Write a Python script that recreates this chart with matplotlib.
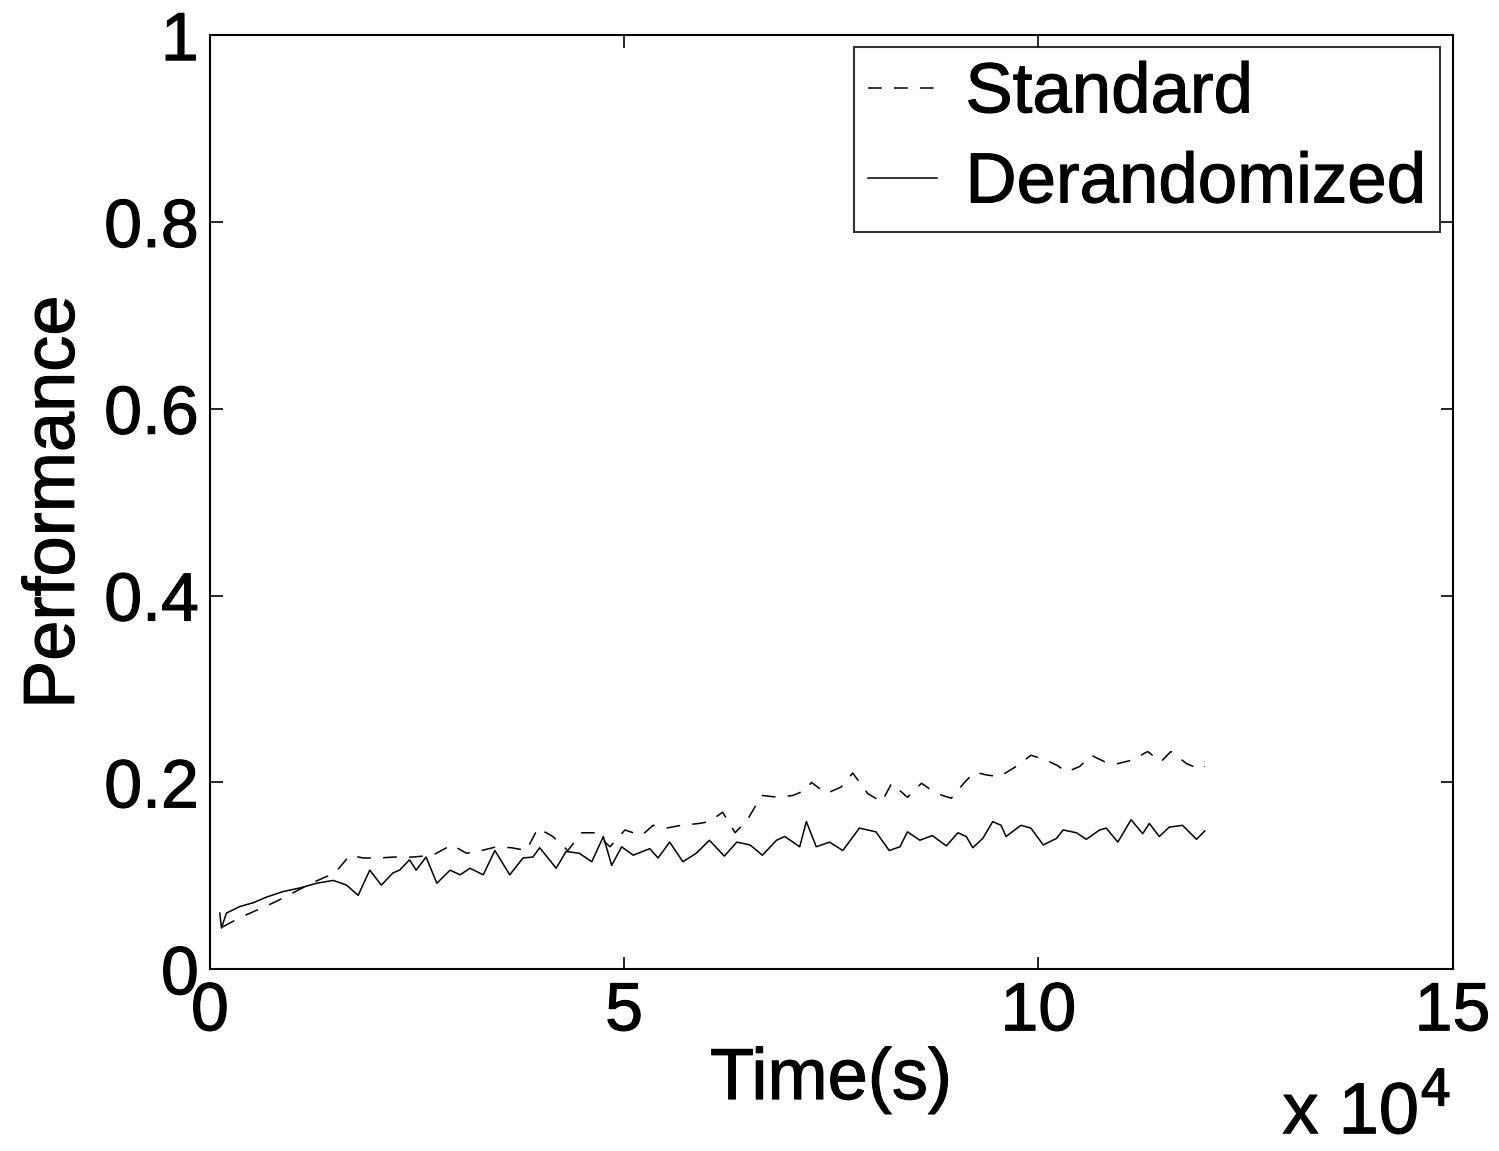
import matplotlib

matplotlib.use("Agg")
import matplotlib.pyplot as plt
import matplotlib.patheffects as pe

plt.rcParams["font.family"] = ["Liberation Sans", "DejaVu Sans"]

# time in units of 1e4 s
std_x = [0.15, 0.36, 0.79, 1.25, 1.51, 1.69, 1.85, 2.05, 2.21, 2.45, 2.69, 2.92,
         3.10, 3.28, 3.46, 3.64, 3.82, 3.96, 4.14, 4.32, 4.49, 4.65, 4.83, 5.01,
         5.21, 5.35, 5.51, 5.69, 5.91, 6.03, 6.19, 6.34, 6.49, 6.66, 6.86, 7.04,
         7.20, 7.26, 7.44, 7.62, 7.76, 7.94, 8.11, 8.23, 8.42, 8.59, 8.77, 8.95,
         9.11, 9.23, 9.37, 9.53, 9.75, 9.91, 10.09, 10.23, 10.34, 10.50, 10.64,
         10.80, 10.96, 11.14, 11.32, 11.48, 11.60, 11.79, 11.95, 12.01]
std_y = [0.045, 0.055, 0.072, 0.093, 0.103, 0.122, 0.119, 0.119, 0.120, 0.120,
         0.122, 0.133, 0.124, 0.127, 0.131, 0.130, 0.127, 0.151, 0.142, 0.127,
         0.146, 0.146, 0.131, 0.149, 0.143, 0.154, 0.151, 0.154, 0.156, 0.158,
         0.168, 0.146, 0.160, 0.186, 0.184, 0.186, 0.192, 0.200, 0.188, 0.195,
         0.210, 0.188, 0.179, 0.199, 0.184, 0.199, 0.188, 0.183, 0.200, 0.211,
         0.208, 0.206, 0.218, 0.229, 0.224, 0.218, 0.211, 0.217, 0.229, 0.222,
         0.220, 0.224, 0.233, 0.222, 0.233, 0.220, 0.214, 0.217]

der_x = [0.12, 0.14, 0.20, 0.36, 0.52, 0.68, 0.88, 1.09, 1.29, 1.49, 1.65, 1.79,
         1.93, 2.07, 2.21, 2.29, 2.41, 2.49, 2.61, 2.74, 2.90, 3.02, 3.14, 3.30,
         3.44, 3.62, 3.78, 3.90, 3.98, 4.10, 4.18, 4.30, 4.46, 4.61, 4.75, 4.85,
         4.97, 5.11, 5.31, 5.41, 5.55, 5.71, 5.87, 6.03, 6.21, 6.36, 6.52, 6.67,
         6.84, 6.94, 7.12, 7.20, 7.32, 7.48, 7.64, 7.84, 8.04, 8.20, 8.33, 8.42,
         8.57, 8.72, 8.89, 9.03, 9.13, 9.21, 9.33, 9.45, 9.55, 9.61, 9.79, 9.91,
         10.06, 10.22, 10.30, 10.46, 10.58, 10.74, 10.82, 10.96, 11.12, 11.26,
         11.34, 11.46, 11.58, 11.74, 11.91, 12.01]
der_y = [0.060, 0.044, 0.060, 0.067, 0.071, 0.077, 0.083, 0.087, 0.092, 0.095,
         0.090, 0.079, 0.106, 0.090, 0.103, 0.106, 0.117, 0.106, 0.120, 0.092,
         0.106, 0.101, 0.108, 0.101, 0.127, 0.101, 0.119, 0.120, 0.130, 0.117,
         0.108, 0.126, 0.124, 0.115, 0.142, 0.111, 0.131, 0.122, 0.129, 0.119,
         0.136, 0.115, 0.124, 0.138, 0.121, 0.136, 0.133, 0.122, 0.138, 0.142,
         0.131, 0.158, 0.131, 0.136, 0.127, 0.151, 0.147, 0.127, 0.131, 0.147,
         0.138, 0.143, 0.132, 0.146, 0.142, 0.130, 0.140, 0.158, 0.154, 0.142,
         0.154, 0.151, 0.133, 0.140, 0.149, 0.146, 0.139, 0.149, 0.151, 0.136,
         0.160, 0.145, 0.156, 0.142, 0.152, 0.154, 0.139, 0.148]

x_ticks = [0, 5, 10, 15]
y_ticks = [0, 0.2, 0.4, 0.6, 0.8, 1]
y_tick_labels = ["0", "0.2", "0.4", "0.6", "0.8", "1"]

fs_tick = 49
fs_label = 52
fs_leg = 51
bold = [pe.withStroke(linewidth=0.8, foreground="black")]

fig = plt.figure(figsize=(14.99, 11.51), dpi=100)
ax = fig.add_axes([0.140, 0.158, 0.829, 0.8115])

ax.plot(std_x, std_y, color="black", linewidth=1.1, dashes=(9, 8), label="Standard")
ax.plot(der_x, der_y, color="black", linewidth=1.1, label="Derandomized")

ax.set_xlim(0, 15)
ax.set_ylim(0, 1)
ax.set_xticks(x_ticks)
ax.set_xticklabels([str(t) for t in x_ticks])
ax.set_yticks(y_ticks)
ax.set_yticklabels(y_tick_labels)
ax.tick_params(direction="in", length=9, width=1.2, labelsize=fs_tick,
               top=True, right=True, pad=8)
ax.tick_params(axis="x", pad=8)
for s in ax.spines.values():
    s.set_linewidth(1.5)

ax.set_xlabel("Time(s)", fontsize=fs_label, labelpad=2)
ax.set_ylabel("Performance", fontsize=fs_label, labelpad=11)
off = fig.text(0.968, 0.002, r"x 10$^{4}$", fontsize=fs_label, ha="right", va="bottom",
               math_fontfamily="custom")

leg = ax.legend(loc="upper right", fontsize=fs_leg, frameon=True, fancybox=False,
                edgecolor="black", borderaxespad=0.17, handlelength=0.98,
                handletextpad=0.4, labelspacing=0.34, borderpad=0.2)
leg.get_frame().set_linewidth(1.5)

texts = ax.get_xticklabels() + ax.get_yticklabels() + leg.get_texts()
texts += [ax.xaxis.label, ax.yaxis.label, off]
for t in texts:
    t.set_path_effects(bold)

fig.savefig("out.png", dpi=100, facecolor="white")
